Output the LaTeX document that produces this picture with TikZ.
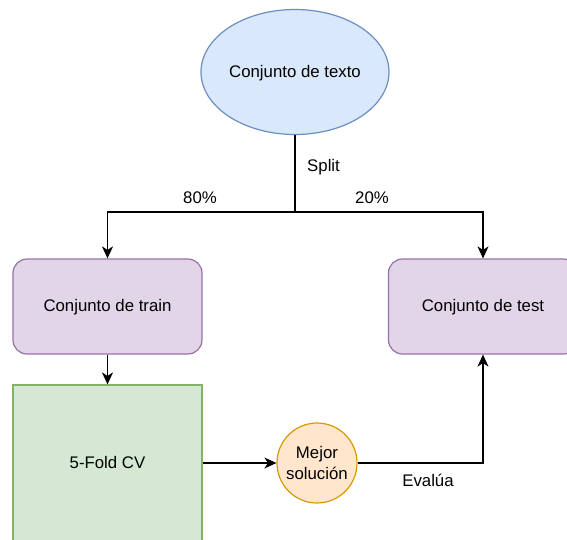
\documentclass[tikz,border=0pt]{standalone}
\usepackage{fontspec}
\setmainfont{Liberation Sans}
\usetikzlibrary{arrows.meta,shapes.geometric}
\definecolor{bluefill}{HTML}{DAE8FC}
\definecolor{bluestroke}{HTML}{6C8EBF}
\definecolor{purplefill}{HTML}{E1D5E7}
\definecolor{purplestroke}{HTML}{9673A6}
\definecolor{greenfill}{HTML}{D5E8D4}
\definecolor{greenstroke}{HTML}{82B366}
\definecolor{orangefill}{HTML}{FFE6CC}
\definecolor{orangestroke}{HTML}{D79B00}
\tikzset{
  every node/.style={font=\fontsize{16.8}{21}\selectfont, inner sep=0pt},
  onetext/.style={text height=10pt, text depth=0pt},
  ellbox/.style={ellipse, onetext, draw=bluestroke, fill=bluefill, line width=1.2pt, minimum width=188pt, minimum height=125pt},
  setbox/.style={rectangle, onetext, rounded corners=14pt, draw=purplestroke, fill=purplefill, line width=1.2pt, minimum width=189pt, minimum height=95pt},
  cvbox/.style={rectangle, onetext, draw=greenstroke, fill=greenfill, line width=1.2pt, minimum width=189pt, minimum height=156pt},
  bestbox/.style={circle, draw=orangestroke, fill=orangefill, line width=1.2pt, minimum size=80pt, align=center},
  conn/.style={draw=black, line width=1.4pt},
  arr/.style={conn, -{Stealth[length=12pt, width=11pt, inset=3.5pt]}},
  lbl/.style={text=black}
}
\begin{document}
\begin{tikzpicture}[x=1pt, y=-1pt]
\useasboundingbox (0,0) rectangle (567,539);
\begin{scope}
\clip (0,0) rectangle (567,539);
\node[ellbox] (texto) at (295,72) {Conjunto de texto};
\node[setbox] (train) at (107.5,306.5) {Conjunto de train};
\node[setbox] (test) at (483,306.5) {Conjunto de test};
\node[cvbox] (cv) at (107.5,463) {5-Fold CV};
\node[bestbox] (best) at (317,463) {Mejor\\solución};
\coordinate (split) at (295,212);

\draw[conn] (texto.south) -- (split);
\draw[arr] (split) -| (train.north);
\draw[arr] (split) -| (test.north);
\draw[arr] (train.south) -- (cv.north);
\draw[arr] (cv.east) -- (best.west);
\draw[arr] (best.east) -| (test.south);

\node[lbl, anchor=west] (splitlbl) at (307,167) {Split};
\node[lbl] (p80) at (200,198) {80\%};
\node[lbl] (p20) at (372,198) {20\%};
\node[lbl] (evalua) at (428,480) {Evalúa};
\end{scope}
\end{tikzpicture}
\end{document}
